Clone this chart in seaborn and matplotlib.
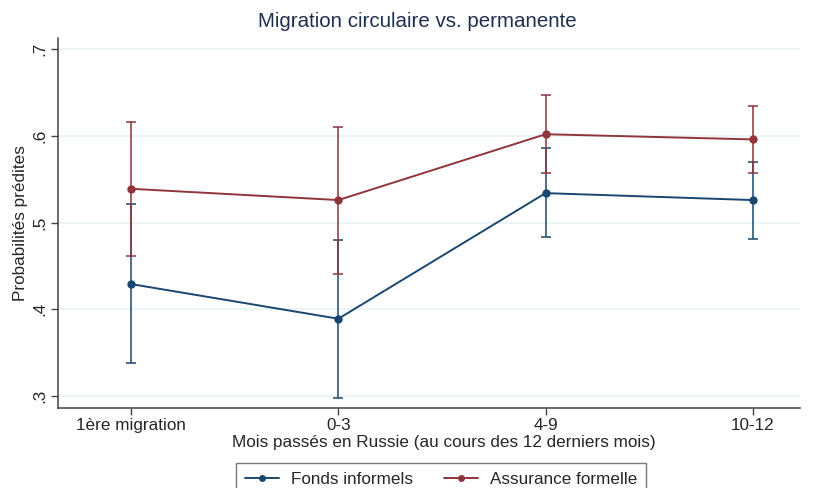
import numpy as np
import pandas as pd
import matplotlib
matplotlib.use("Agg")
import matplotlib.pyplot as plt
import seaborn as sns

# data
categories = ["1ère migration", "0-3", "4-9", "10-12"]
informel = [0.429, 0.389, 0.534, 0.526]
informel_lo = [0.338, 0.298, 0.483, 0.481]
informel_hi = [0.521, 0.480, 0.586, 0.570]
formel = [0.539, 0.526, 0.602, 0.596]
formel_lo = [0.462, 0.441, 0.557, 0.557]
formel_hi = [0.616, 0.610, 0.647, 0.635]

series_names = ["Fonds informels", "Assurance formelle"]
colors = {"Fonds informels": "#1a476f", "Assurance formelle": "#90353b"}

sns.set_style("white")
plt.rcParams["font.family"] = ["Liberation Sans", "DejaVu Sans"]

pos = np.arange(len(categories))
df = pd.DataFrame({
    "pos": np.concatenate([pos, pos]),
    "val": informel + formel,
    "lo": informel_lo + formel_lo,
    "hi": informel_hi + formel_hi,
    "serie": [series_names[0]] * 4 + [series_names[1]] * 4,
})

fig = plt.figure(figsize=(8.14, 4.88), dpi=100)
ax = fig.add_axes([0.0713, 0.164, 0.912, 0.758])

for y in [0.3, 0.4, 0.5, 0.6, 0.7]:
    ax.axhline(y, color="#eaf2f3", lw=1.2, zorder=0)

for name in series_names:
    d = df[df["serie"] == name]
    ax.errorbar(d["pos"], d["val"], yerr=[d["val"] - d["lo"], d["hi"] - d["val"]],
                fmt="none", ecolor=colors[name], elinewidth=1.3, capsize=3.5,
                capthick=1.3, alpha=0.85, zorder=2)

sns.lineplot(data=df, x="pos", y="val", hue="serie", palette=colors, marker="o",
             markersize=6, markeredgewidth=0, linewidth=1.4, ax=ax, zorder=3)
ax.get_legend().remove()

ax.set_xlim(-0.353, 3.23)
ax.set_ylim(0.286, 0.713)
ax.set_xticks(pos)
ax.set_xticklabels(categories, fontsize=12.3)
ax.set_yticks([0.3, 0.4, 0.5, 0.6, 0.7])
ax.set_yticklabels([".3", ".4", ".5", ".6", ".7"], fontsize=12.3, rotation=90, va="center")
ax.tick_params(axis="both", length=5, width=1, color="#444444", direction="out",
               bottom=True, left=True, pad=2.5)
for s in ["top", "right"]:
    ax.spines[s].set_visible(False)
for s in ["left", "bottom"]:
    ax.spines[s].set_color("#444444")
    ax.spines[s].set_linewidth(1.1)

ax.set_xlabel("Mois passés en Russie (au cours des 12 derniers mois)", fontsize=12.3)
ax.xaxis.set_label_coords(0.519, -0.073)
ax.set_ylabel("Probabilités prédites", fontsize=12.3, labelpad=3)
fig.text(0.513, 0.955, "Migration circulaire vs. permanente", ha="center", va="center",
         fontsize=14.8, color="#1e3050")

handles = [plt.Line2D([], [], color=colors[n], marker="o", markersize=4, lw=1.4) for n in series_names]
leg = fig.legend(handles, series_names, loc="upper center", bbox_to_anchor=(0.542, 0.068),
                 ncol=2, fontsize=12.3, frameon=True, fancybox=False, edgecolor="#555555",
                 handlelength=2.0, handletextpad=0.7, columnspacing=1.8, borderpad=0.5)
leg.get_frame().set_linewidth(1)

fig.savefig("out.png", dpi=100)
